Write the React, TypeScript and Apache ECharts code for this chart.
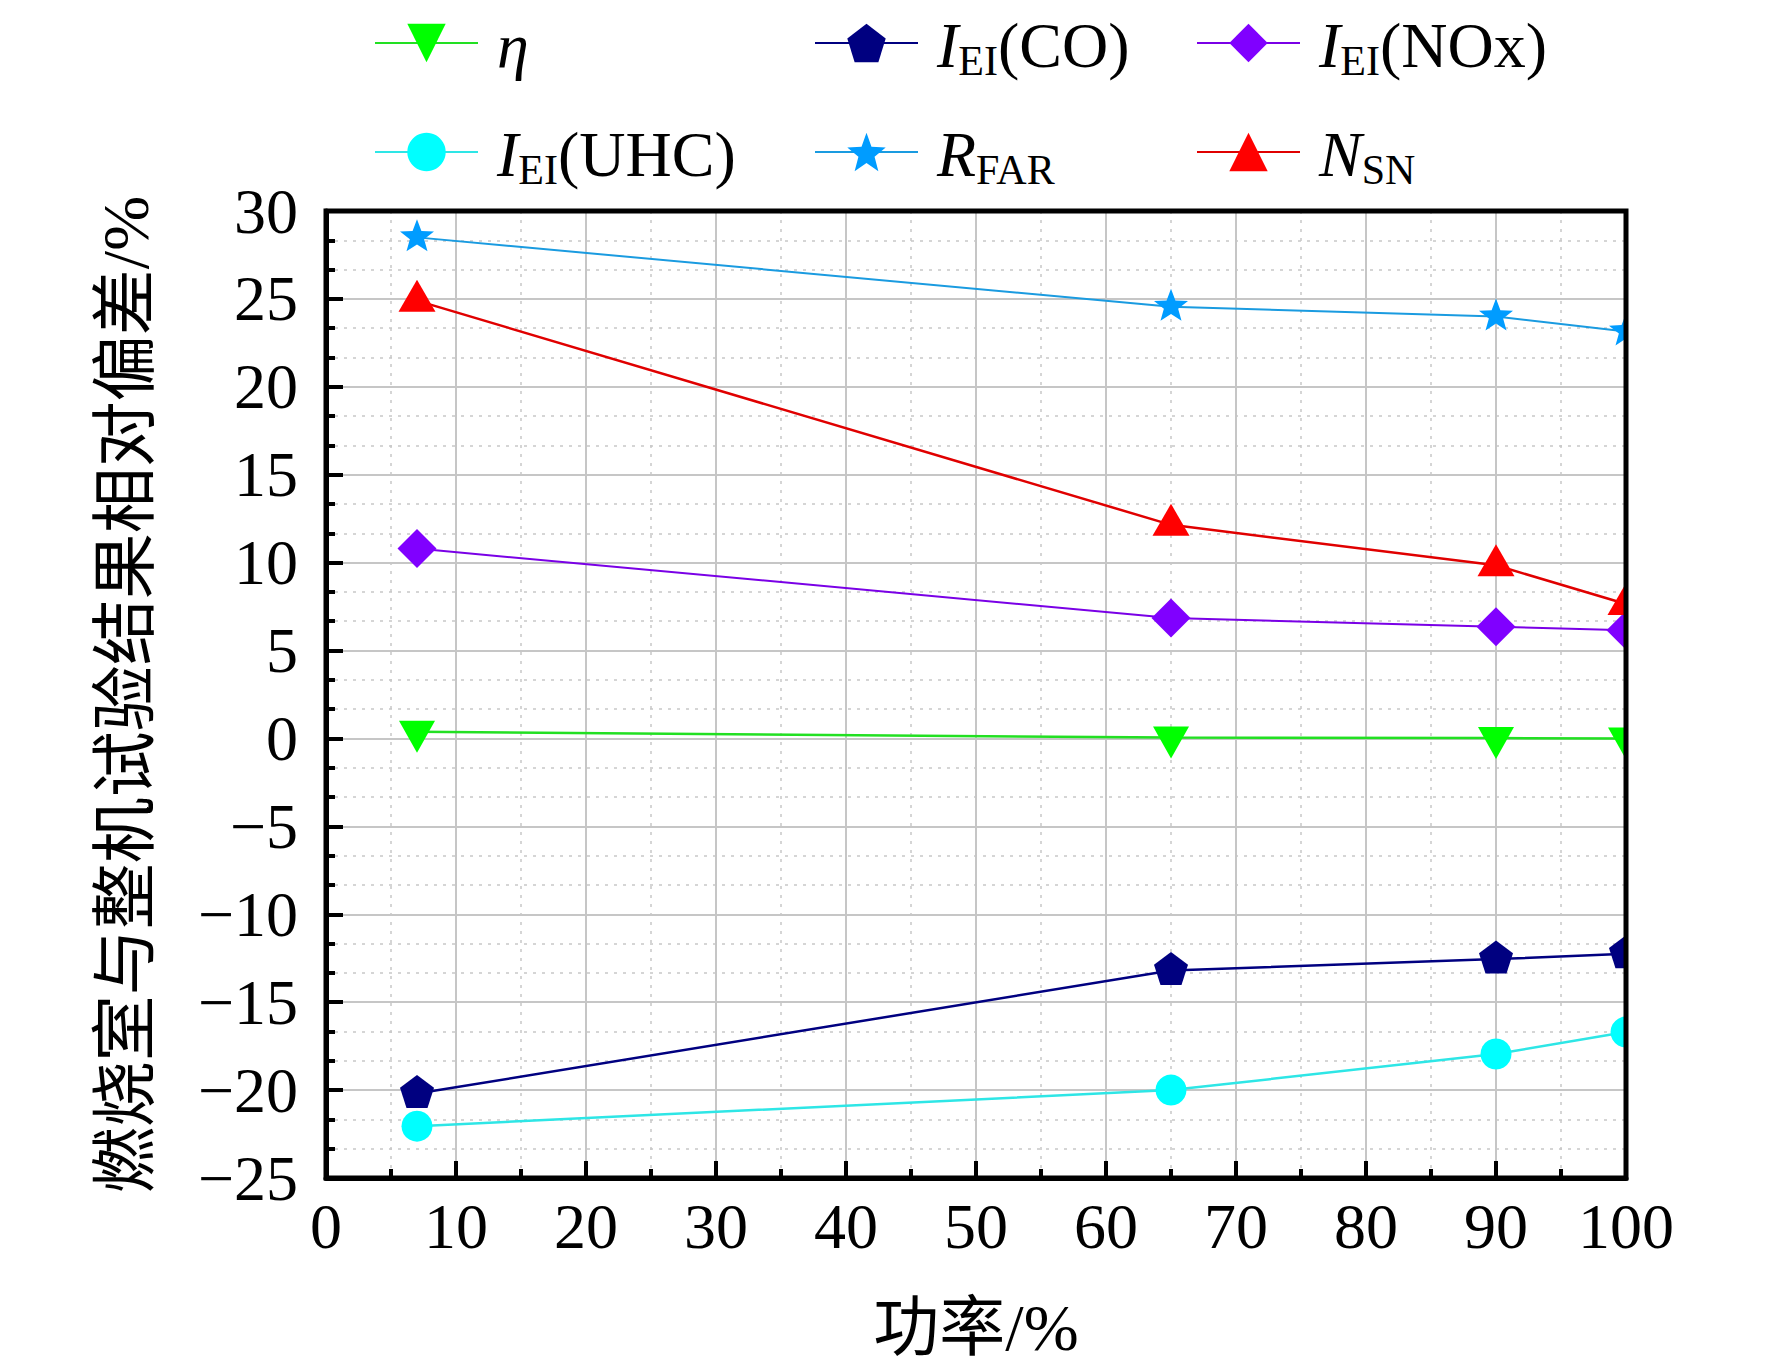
import React, { useEffect, useRef } from 'react';
import * as echarts from 'echarts';

// ---- data ----
const powerPct = [7, 65, 90, 100];
const etaVals = [0.38, 0.05, 0.02, 0.0];
const coVals = [-20.2, -13.2, -12.55, -12.25];
const noxVals = [10.8, 6.85, 6.35, 6.15];
const uhcVals = [-22.05, -20.0, -17.95, -16.7];
const farVals = [28.5, 24.55, 24.0, 23.15];
const snVals = [24.9, 12.15, 9.85, 7.65];

const seriesNames = ['η', 'I_EI(CO)', 'I_EI(NOx)', 'I_EI(UHC)', 'R_FAR', 'N_SN'];
const legendRich: Record<string, string> = {
  'η': '{it|η}',
  'I_EI(CO)': '{it|I}{sub|EI}{rm|(CO)}',
  'I_EI(NOx)': '{it|I}{sub|EI}{rm|(NOx)}',
  'I_EI(UHC)': '{it|I}{sub|EI}{rm|(UHC)}',
  'R_FAR': '{it|R}{sub|FAR}',
  'N_SN': '{it|N}{sub|SN}',
};

const xName = '功率/%';
const yName = '燃烧室与整机试验结果相对偏差/%';

const SERIF = "'Liberation Serif', 'Times New Roman', 'Noto Sans CJK SC', serif";

const PENTAGON = 'path://M0,-1 L0.9511,-0.309 L0.5878,0.809 L-0.5878,0.809 L-0.9511,-0.309 Z';
const DOWN_TRI = 'path://M-1,-0.5 L1,-0.5 L0,1 Z';
const STAR =
  'path://M0,-1 L0.2469,-0.3398 L0.9511,-0.309 L0.3995,0.1298 L0.5878,0.809 L0,0.42 L-0.5878,0.809 L-0.3995,0.1298 L-0.9511,-0.309 L-0.2469,-0.3398 Z';

const G = { left: 326, top: 211, width: 1300, height: 967 };

function App() {
  const ref = useRef<HTMLDivElement>(null);

  useEffect(() => {
    document.body.style.margin = '0';
    document.body.style.overflow = 'hidden';
    if (!ref.current) return;
    const chart = echarts.init(ref.current, undefined, { renderer: 'svg' });

    const mk = (
      name: string,
      vals: number[],
      color: string,
      lineColor: string,
      symbol: string,
      size: number | number[],
      offset: number[],
      lw: number
    ) => ({
      name,
      type: 'line',
      data: powerPct.map((x, i) => [x, vals[i]]),
      symbol,
      symbolSize: size,
      symbolOffset: offset,
      showSymbol: true,
      itemStyle: { color, borderWidth: 0 },
      lineStyle: { color: lineColor, width: lw },
      emphasis: { disabled: true },
    });

    const richStyles = {
      it: { fontFamily: SERIF, fontStyle: 'italic', fontSize: 64, lineHeight: 64, color: '#000', verticalAlign: 'top', padding: [2, 0, 0, 0] },
      rm: { fontFamily: SERIF, fontSize: 64, lineHeight: 64, color: '#000', verticalAlign: 'top', padding: [2, 0, 0, 0] },
      sub: { fontFamily: SERIF, fontSize: 42, lineHeight: 42, color: '#000', verticalAlign: 'top', padding: [29, 0, 0, 0] },
    };

    const legendPos = [
      { left: 374, top: 11 },
      { left: 814, top: 11 },
      { left: 1196, top: 11 },
      { left: 374, top: 120 },
      { left: 814, top: 120 },
      { left: 1196, top: 120 },
    ];

    const legends = seriesNames.map((n, i) => ({
      data: [n],
      left: legendPos[i].left,
      top: legendPos[i].top,
      padding: 0,
      itemWidth: 103,
      itemHeight: 48,
      selectedMode: false,
      formatter: (name: string) => legendRich[name],
      textStyle: { fontFamily: SERIF, fontSize: 64, color: '#000', padding: [0, 0, 0, 14], rich: richStyles },
    }));

    const axisLabelFont = { fontFamily: SERIF, fontSize: 64, color: '#000' };

    chart.setOption({
      animation: false,
      backgroundColor: '#fff',
      legend: legends,
      grid: { left: G.left, top: G.top, width: G.width, height: G.height, containLabel: false },
      xAxis: {
        type: 'value',
        min: 0,
        max: 100,
        interval: 10,
        name: xName,
        nameLocation: 'middle',
        nameGap: 116,
        nameTextStyle: { fontFamily: SERIF, fontSize: 66, color: '#000' },
        axisLine: { show: true, onZero: false, lineStyle: { color: '#000', width: 5 } },
        axisTick: { show: true, inside: true, length: 17, lineStyle: { color: '#000', width: 4 } },
        minorTick: { show: true, splitNumber: 2, length: 9, lineStyle: { color: '#000', width: 4 } },
        axisLabel: { ...axisLabelFont, margin: 16 },
        splitLine: { show: true, lineStyle: { color: '#c6c6c6', width: 2 } },
        minorSplitLine: { show: true, lineStyle: { color: '#c8c8c8', width: 1.5, type: [3, 6] } },
      },
      yAxis: {
        type: 'value',
        min: -25,
        max: 30,
        interval: 5,
        name: yName,
        nameLocation: 'middle',
        nameRotate: 90,
        nameGap: 168,
        nameTextStyle: { fontFamily: SERIF, fontSize: 66, color: '#000' },
        axisLine: { show: true, onZero: false, lineStyle: { color: '#000', width: 5 } },
        axisTick: { show: true, inside: true, length: 17, lineStyle: { color: '#000', width: 4 } },
        minorTick: { show: true, splitNumber: 3, length: 9, lineStyle: { color: '#000', width: 4 } },
        axisLabel: {
          ...axisLabelFont,
          margin: 28,
          padding: [0, 0, 38, 0],
          formatter: (v: number) => (v < 0 ? '\u2212' + Math.abs(v) : String(v)),
        },
        splitLine: { show: true, lineStyle: { color: '#c6c6c6', width: 2 } },
        minorSplitLine: { show: true, lineStyle: { color: '#c8c8c8', width: 1.5, type: [3, 6] } },
      },
      graphic: [
        {
          type: 'rect',
          z: 90,
          silent: true,
          shape: { x: G.left + G.width + 2, y: 150, width: 80, height: G.top + G.height - 150 - 2 },
          style: { fill: '#fff' },
        },
        {
          type: 'rect',
          z: 100,
          silent: true,
          shape: { x: G.left, y: G.top, width: G.width, height: G.height },
          style: { fill: 'none', stroke: '#000', lineWidth: 5 },
        },
      ],
      series: [
        mk(seriesNames[0], etaVals, '#00ff00', '#22e022', DOWN_TRI, [36, 32], [0, 5], 2.5),
        mk(seriesNames[1], coVals, '#000080', '#000080', PENTAGON, [34, 33], [0, -2], 2.5),
        mk(seriesNames[2], noxVals, '#8000ff', '#7a00e6', 'diamond', [39, 39], [0, 0], 2),
        mk(seriesNames[3], uhcVals, '#00ffff', '#2ee6e6', 'circle', [31, 31], [0, 0], 2.5),
        mk(seriesNames[4], farVals, '#009cff', '#1a9be0', STAR, [34, 32], [0, -2], 2),
        mk(seriesNames[5], snVals, '#ff0000', '#e00000', 'triangle', [37, 32], [0, -5], 2.5),
      ],
    });

    return () => {
      chart.dispose();
    };
  }, []);

  return <div ref={ref} style={{ width: 1772, height: 1370 }} />;
}

export default App;
